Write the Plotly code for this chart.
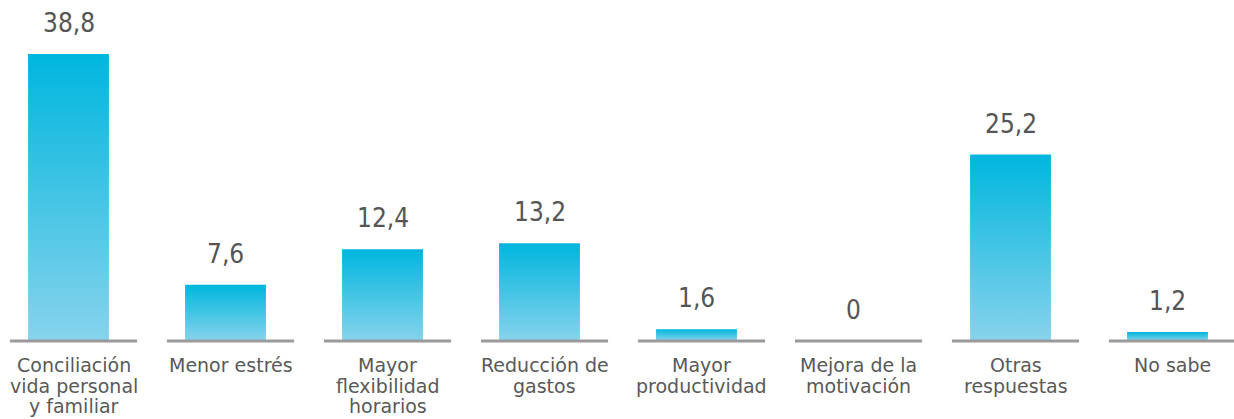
import plotly.graph_objects as go

categorias = ["Conciliación<br>vida personal<br>y familiar", "Menor estrés", "Mayor<br>flexibilidad<br>horarios",
              "Reducción de<br>gastos", "Mayor<br>productividad", "Mejora de la<br>motivación",
              "Otras<br>respuestas", "No sabe"]
valores = [38.8, 7.6, 12.4, 13.2, 1.6, 0, 25.2, 1.2]
etiquetas = ["38,8", "7,6", "12,4", "13,2", "1,6", "0", "25,2", "1,2"]

ancho_barra = 0.515
ancho_base = 0.81
desplaz = 5 / 157  # bases y textos algo a la derecha de las barras
fuente_val = "DejaVu Sans Condensed"
fuente_cat = "DejaVu Sans"
px_por_unidad = 287 / 38.8

fig = go.Figure()

# barras con degradado vertical
for i, v in enumerate(valores):
    if v <= 0:
        continue
    x0, x1 = i - ancho_barra / 2, i + ancho_barra / 2
    fig.add_trace(go.Scatter(
        x=[x0, x1, x1, x0, x0], y=[0, 0, v, v, 0], mode="lines", fill="toself",
        line=dict(width=0), showlegend=False, hoverinfo="skip",
        fillgradient=dict(type="vertical", colorscale=[[0, "#87d3ec"], [1, "#00b6de"]]),
    ))

# bases grises bajo cada categoria
xs, ys = [], []
for i in range(len(valores)):
    xs += [i + desplaz - ancho_base / 2, i + desplaz + ancho_base / 2, None]
    ys += [0, 0, None]
fig.add_trace(go.Scatter(x=xs, y=ys, mode="lines", line=dict(color="#9a9a9c", width=3),
                         hoverinfo="skip", showlegend=False))

for i, (v, t) in enumerate(zip(valores, etiquetas)):
    fig.add_annotation(x=i, y=v, text=t, showarrow=False, yanchor="middle", yshift=31,
                       font=dict(family=fuente_val, size=26, color="#555555"))

# etiquetas de categoria, linea a linea para un interlineado ajustado
for i, cat in enumerate(categorias):
    for j, linea in enumerate(cat.split("<br>")):
        fig.add_annotation(x=i + desplaz, y=0, text=linea, showarrow=False,
                           yanchor="middle", yshift=-24 - 20.5 * j,
                           font=dict(family=fuente_cat, size=19, color="#595959"))

fig.update_xaxes(range=[-68.5 / 157, -68.5 / 157 + 1234 / 157], showticklabels=False,
                 showgrid=False, zeroline=False, showline=False, ticks="")
fig.update_yaxes(range=[-4 / px_por_unidad, 341 / px_por_unidad], visible=False, showgrid=False)

fig.update_layout(width=1234, height=419, margin=dict(l=0, r=0, t=0, b=74),
                  plot_bgcolor="white", paper_bgcolor="white", showlegend=False)

fig.write_html("out.html", config={"displayModeBar": False},
               post_script="document.body.style.margin='0';")
